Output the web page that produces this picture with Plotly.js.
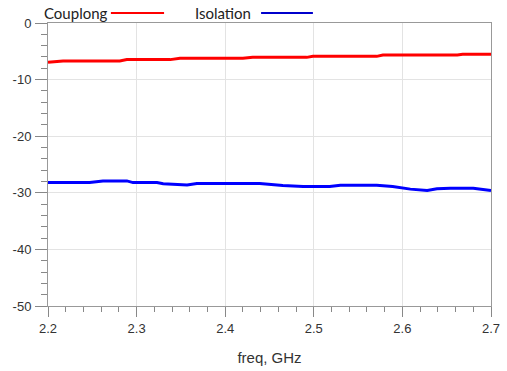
<!DOCTYPE html>
<html>
<head>
<meta charset="utf-8">
<script src="https://cdn.plot.ly/plotly-3.0.1.min.js"></script>
<style>html,body{margin:0;padding:0;background:#fff;}#chart{width:507px;height:371px;}</style>
</head>
<body>
<div id="chart"></div>
<script>
const couplingFreq = [2.2, 2.217, 2.281, 2.289, 2.338, 2.349, 2.42, 2.431, 2.492, 2.499, 2.571, 2.578, 2.662, 2.668, 2.7];
const couplingDb = [-6.95, -6.7, -6.7, -6.47, -6.47, -6.24, -6.24, -6.07, -6.07, -5.89, -5.89, -5.64, -5.64, -5.54, -5.54];
const isolationFreq = [2.2, 2.247, 2.262, 2.289, 2.296, 2.323, 2.330, 2.357, 2.368, 2.439, 2.465, 2.488, 2.518, 2.530, 2.571, 2.589, 2.609, 2.628, 2.639, 2.654, 2.680, 2.7];
const isolationDb = [-28.2, -28.2, -27.9, -27.9, -28.2, -28.2, -28.4, -28.6, -28.35, -28.35, -28.7, -28.9, -28.9, -28.65, -28.65, -28.9, -29.35, -29.6, -29.3, -29.2, -29.2, -29.6];
const seriesNames = ["Couplong", "Isolation"];
const xTickVals = [2.2, 2.3, 2.4, 2.5, 2.6, 2.7];
const yTickVals = [0, -10, -20, -30, -40, -50];
const xTitle = "freq, GHz";

const traces = [
  {x: couplingFreq, y: couplingDb, mode: 'lines', name: seriesNames[0], line: {color: '#ff0000', width: 3}, showlegend: false},
  {x: isolationFreq, y: isolationDb, mode: 'lines', name: seriesNames[1], line: {color: '#0000ff', width: 3}, showlegend: false}
];

const tickFont = {family: 'Liberation Sans, Arial, sans-serif', size: 13, color: '#333'};
const layout = {
  width: 507, height: 371,
  margin: {l: 48, r: 16, t: 23, b: 65},
  paper_bgcolor: '#fff', plot_bgcolor: '#fff',
  xaxis: {
    range: [2.2, 2.7], tickvals: xTickVals, ticktext: xTickVals.map(v => v.toFixed(1)),
    ticks: 'outside', ticklen: 10, tickcolor: '#888', tickwidth: 1,
    minor: {dtick: 0.02, ticks: 'outside', ticklen: 5, tickcolor: '#888', showgrid: false},
    showgrid: true, gridcolor: '#e3e3e3', gridwidth: 1,
    showline: true, linecolor: '#999', linewidth: 1, mirror: true,
    zeroline: false, tickfont: tickFont,
    title: {text: xTitle, font: {family: 'Liberation Sans, Arial, sans-serif', size: 15, color: '#333'}, standoff: 17}
  },
  yaxis: {
    range: [-50, 0], tickvals: yTickVals, ticktext: yTickVals.map(String),
    ticks: 'outside', ticklen: 12, tickcolor: '#888', tickwidth: 1,
    minor: {dtick: 2, ticks: 'outside', ticklen: 6, tickcolor: '#888', showgrid: false},
    showgrid: true, gridcolor: '#e3e3e3', gridwidth: 1,
    showline: true, linecolor: '#999', linewidth: 1, mirror: true,
    zeroline: false, tickfont: tickFont, ticklabelstandoff: 1
  },
  annotations: [
    {text: seriesNames[0], xref: 'paper', yref: 'paper', x: -0.0135, y: 1.035, xanchor: 'left', yanchor: 'middle', showarrow: false, font: {family: 'Lato, Carlito, sans-serif', size: 15, color: '#222'}},
    {text: seriesNames[1], xref: 'paper', yref: 'paper', x: 0.327, y: 1.035, xanchor: 'left', yanchor: 'middle', showarrow: false, font: {family: 'Lato, Carlito, sans-serif', size: 15, color: '#222'}}
  ],
  shapes: [
    {type: 'line', xref: 'paper', yref: 'paper', x0: 0.142, x1: 0.262, y0: 1.035, y1: 1.035, line: {color: '#ff0000', width: 2}},
    {type: 'line', xref: 'paper', yref: 'paper', x0: 0.481, x1: 0.598, y0: 1.035, y1: 1.035, line: {color: '#0000cc', width: 2}}
  ]
};
Plotly.newPlot('chart', traces, layout, {displayModeBar: false, staticPlot: true});
</script>
</body>
</html>
